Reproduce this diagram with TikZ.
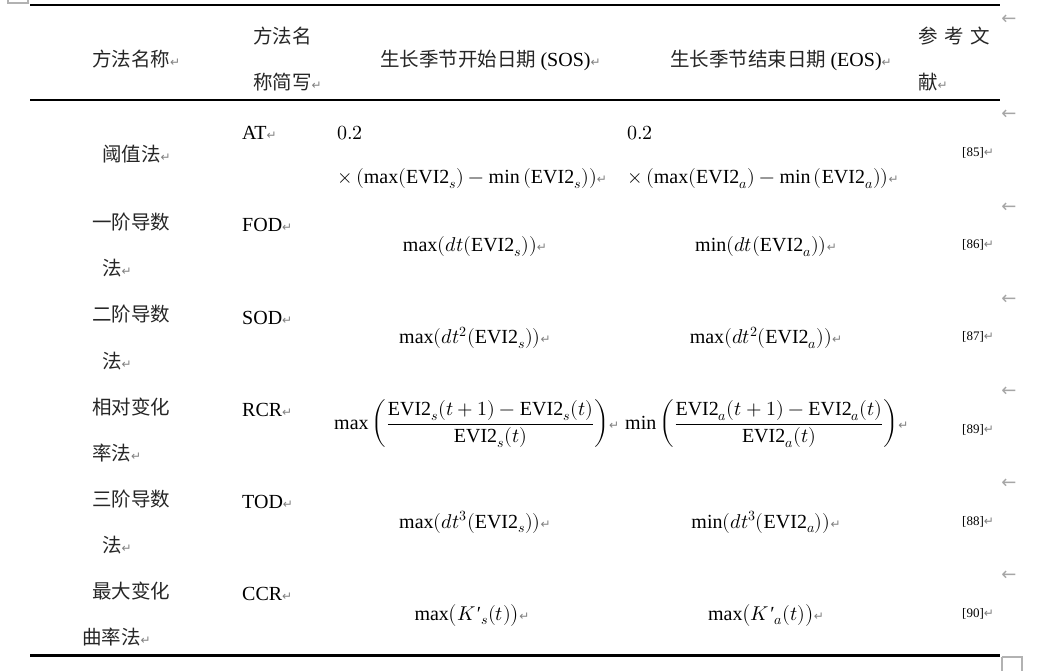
\documentclass[tikz,border=0pt]{standalone}
\usepackage{amsmath}
\usepackage{fontspec}
\usepackage{unicode-math}
\setmainfont{Liberation Serif}
\newfontfamily\cjk{Noto Sans CJK SC}
\newfontfamily\djv{DejaVu Sans}
\newcommand\retmark{{\djv\fontsize{12}{12}\selectfont\color{gray}↵}}
\newcommand\EV{\mathrm{EVI2}}
\newcommand\Kp{K\text{\kern1pt′}}
\tikzset{
  txt/.style={inner sep=0pt, anchor=base west, font=\fontsize{20}{24}\selectfont},
  zh/.style={inner sep=0pt, anchor=base west, text=black!85, font=\cjk\fontsize{19.5}{24}\selectfont},
  fml/.style={inner sep=0pt, anchor=base, font=\fontsize{20}{24}\selectfont},
  ref/.style={inner sep=0pt, anchor=base west, font=\fontsize{13}{14}\selectfont},
  rowend/.style={inner sep=0pt, anchor=center, text=gray!70, font=\djv\fontsize{18}{18}\selectfont},
  rulethin/.style={line width=2pt},
  rulethick/.style={line width=3pt},
  mark box/.style={draw=gray!60, line width=1.2pt}
}
\begin{document}
\begin{tikzpicture}[x=1pt,y=-1pt]
\useasboundingbox (0,0) rectangle (1037,671);
% rules
\draw[rulethin] (30,5) -- (1000,5);
\draw[rulethin] (30,100) -- (1000,100);
\draw[rulethick] (30,655) -- (1000,655);
\draw[mark box] (8,-6) rectangle (28,3);
\draw[mark box] (1002,657) -- (1002,675) (1002,657) -- (1022,657) -- (1022,675);
% header
\node[zh] (h1) at (92,67) {方法名称\retmark};
\node[zh] (h2a) at (253,44) {方法名};
\node[zh] (h2b) at (253,90) {称简写\retmark};
\node[zh] (h3) at (380,67) {生长季节开始日期 {\rmfamily\fontsize{20}{24}\selectfont\color{black} (SOS)}\retmark};
\node[zh] (h4) at (670,67) {生长季节结束日期 {\rmfamily\fontsize{20}{24}\selectfont\color{black} (EOS)}\retmark};
\node[zh] (h5a) at (918,44) {参\,\,考\,\,文};
\node[zh] (h5b) at (918,90) {献\retmark};
% row end marks
\foreach \yy [count=\i] in {20,115,208,300,392,484,576}
  \node[rowend] (e\i) at (1009,\yy) {←};
% row 1
\node[zh] (n1) at (102,162) {阈值法\retmark};
\node[txt] (a1) at (242,140) {AT\retmark};
\node[txt] (s1a) at (337,140) {$0.2$};
\node[txt] (s1b) at (337,184) {$\times\,(\max(\EV_{s})-\min\,(\EV_{s}))$\retmark};
\node[txt] (t1a) at (627,140) {$0.2$};
\node[txt] (t1b) at (627,184) {$\times\,(\max(\EV_{a})-\min\,(\EV_{a}))$\retmark};
\node[ref] (r1) at (962,157) {[85]\retmark};
% row 2
\node[zh] (n2a) at (92,230) {一阶导数};
\node[zh] (n2b) at (102,276) {法\retmark};
\node[txt] (a2) at (242,232) {FOD\retmark};
\node[fml] (s2) at (475,252) {$\max(dt(\EV_{s}))$\retmark};
\node[fml] (t2) at (766,252) {$\min(dt(\EV_{a}))$\retmark};
\node[ref] (r2) at (962,249) {[86]\retmark};
% row 3
\node[zh] (n3a) at (92,322) {二阶导数};
\node[zh] (n3b) at (102,368) {法\retmark};
\node[txt] (a3) at (242,324) {SOD\retmark};
\node[fml] (s3) at (475,344) {$\max(dt^{2}(\EV_{s}))$\retmark};
\node[fml] (t3) at (766,344) {$\max(dt^{2}(\EV_{a}))$\retmark};
\node[ref] (r3) at (962,341) {[87]\retmark};
% row 4
\node[zh] (n4a) at (92,414) {相对变化};
\node[zh] (n4b) at (92,460) {率法\retmark};
\node[txt] (a4) at (242,416) {RCR\retmark};
\node[txt] (s4) at (334,429) {$\max\left(\dfrac{\EV_{s}(t+1)-\EV_{s}(t)}{\EV_{s}(t)}\right)$\retmark};
\node[txt] (t4) at (625,429) {$\min\left(\dfrac{\EV_{a}(t+1)-\EV_{a}(t)}{\EV_{a}(t)}\right)$\retmark};
\node[ref] (r4) at (962,433) {[89]\retmark};
% row 5
\node[zh] (n5a) at (92,506) {三阶导数};
\node[zh] (n5b) at (102,552) {法\retmark};
\node[txt] (a5) at (242,508) {TOD\retmark};
\node[fml] (s5) at (475,528) {$\max(dt^{3}(\EV_{s}))$\retmark};
\node[fml] (t5) at (766,528) {$\min(dt^{3}(\EV_{a}))$\retmark};
\node[ref] (r5) at (962,525) {[88]\retmark};
% row 6
\node[zh] (n6a) at (92,598) {最大变化};
\node[zh] (n6b) at (82,644) {曲率法\retmark};
\node[txt] (a6) at (242,600) {CCR\retmark};
\node[fml] (s6) at (472,620) {$\max\bigl(\Kp{}_{s}(t)\bigr)$\retmark};
\node[fml] (t6) at (766,620) {$\max\bigl(\Kp{}_{a}(t)\bigr)$\retmark};
\node[ref] (r6) at (962,617) {[90]\retmark};
\end{tikzpicture}
\end{document}
